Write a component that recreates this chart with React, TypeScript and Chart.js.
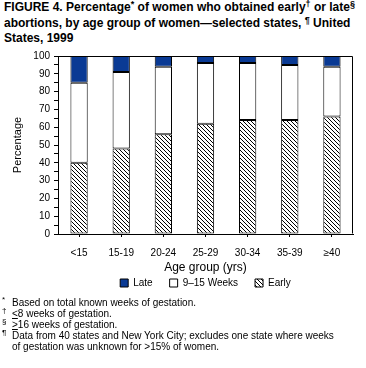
import React, { useEffect, useRef } from 'react';
import { Chart, registerables } from 'chart.js';

Chart.register(...registerables);

const categories = ['<15', '15-19', '20-24', '25-29', '30-34', '35-39', '≥40'];
const earlyValues = [40, 48, 56, 62, 64, 64, 66];
const midValues = [45, 43, 38, 34, 32, 31, 28];
const lateValues = [15, 9, 6, 4, 4, 5, 6];
const seriesLabels = ['Early', '9–15 Weeks', 'Late'];
const yMin = 0;
const yMax = 100;
const yStep = 5;
const yLabelStep = 10;

const FONT = "'Liberation Sans', Arial, Helvetica, sans-serif";

const boxPlugin = {
  id: 'plotBox',
  afterDatasetsDraw(chart: any) {
    const { ctx, chartArea } = chart;
    const l = Math.round(chartArea.left) + 0.5;
    const r = Math.round(chartArea.right) - 0.5;
    const t = Math.round(chartArea.top) + 0.5;
    const b = Math.round(chartArea.bottom) - 0.5;
    ctx.save();
    ctx.strokeStyle = '#000';
    ctx.lineWidth = 1;
    ctx.beginPath();
    ctx.moveTo(l, t);
    ctx.lineTo(r, t);
    ctx.lineTo(r, b);
    ctx.stroke();
    ctx.restore();
  },
};

const legendShift = {
  id: 'legendShift',
  afterLayout(chart: any) {
    const lg = chart.legend;
    if (!lg) return;
    const desiredCenter = chart.chartArea.bottom + 49;
    const pad = 17;
    const itemH = 10;
    const newTop = desiredCenter - pad - itemH / 2;
    const dy = newTop - lg.top;
    lg.top += dy;
    lg.bottom += dy;
  },
};

export default function App() {
  const ref = useRef<HTMLCanvasElement>(null);

  useEffect(() => {
    const canvas = ref.current;
    if (!canvas) return;
    const pc = document.createElement('canvas');
    pc.width = 4;
    pc.height = 4;
    const pctx = pc.getContext('2d')!;
    pctx.fillStyle = '#fff';
    pctx.fillRect(0, 0, 4, 4);
    pctx.fillStyle = '#000';
    for (let i = 0; i < 4; i++) pctx.fillRect(i, i, 1, 1);
    const pattern = canvas.getContext('2d')!.createPattern(pc, 'repeat')!;

    const common = {
      borderColor: '#000',
      borderWidth: 1,
      borderSkipped: false as const,
      barPercentage: 0.41,
      categoryPercentage: 1,
    };

    const chart = new Chart(canvas, {
      type: 'bar',
      data: {
        labels: categories,
        datasets: [
          { label: seriesLabels[0], data: earlyValues, backgroundColor: pattern as any, ...common },
          { label: seriesLabels[1], data: midValues, backgroundColor: '#ffffff', ...common },
          { label: seriesLabels[2], data: lateValues, backgroundColor: '#0a3a94', ...common },
        ],
      },
      options: {
        animation: false,
        responsive: false,
        events: [],
        layout: { padding: { top: 10, right: 13, left: 7, bottom: 0 } },
        plugins: {
          legend: {
            position: 'bottom',
            fullSize: false,
            reverse: true,
            labels: {
              boxWidth: 8,
              boxHeight: 8,
              padding: 17,
              color: '#000',
              font: { family: FONT, size: 10 },
            },
          },
          tooltip: { enabled: false },
        },
        scales: {
          x: {
            stacked: true,
            afterFit: (s: any) => {
              s.height = 41;
            },
            grid: {
              display: true,
              drawOnChartArea: false,
              drawTicks: true,
              tickLength: 3,
              offset: false,
              color: '#000',
            },
            border: { display: true, color: '#000', width: 1 },
            ticks: {
              color: '#000',
              font: { family: FONT, size: 10 },
              padding: 10,
              maxRotation: 0,
              autoSkip: false,
            },
            title: {
              display: true,
              text: 'Age group (yrs)',
              color: '#000',
              font: { family: FONT, size: 12 },
              padding: { top: 0, bottom: 0 },
            },
          },
          y: {
            stacked: true,
            min: yMin,
            max: yMax,
            afterFit: (s: any) => {
              s.width = 51;
            },
            grid: {
              display: true,
              drawOnChartArea: false,
              drawTicks: true,
              tickLength: 4,
              color: '#000',
            },
            border: { display: true, color: '#000', width: 1 },
            ticks: {
              stepSize: yStep,
              autoSkip: false,
              color: '#000',
              padding: 4,
              font: { family: FONT, size: 10 },
              callback: (v: any) => (Number(v) % yLabelStep === 0 ? String(v) : ''),
            },
            title: {
              display: true,
              text: 'Percentage',
              color: '#000',
              font: { family: FONT, size: 11 },
            },
          },
        },
      },
      plugins: [boxPlugin, legendShift],
    });
    return () => chart.destroy();
  }, []);

  const sup: React.CSSProperties = { fontSize: 9, position: 'relative', top: -4 };
  const mark: React.CSSProperties = {
    position: 'absolute',
    left: 2,
    top: -3,
    fontSize: 8,
  };
  const note: React.CSSProperties = { position: 'relative', paddingLeft: 12 };

  return (
    <div
      style={{
        position: 'absolute',
        left: 0,
        top: 0,
        width: 366,
        height: 368,
        background: '#fff',
        fontFamily: FONT,
        color: '#000',
        overflow: 'hidden',
      }}
    >
      <div
        style={{
          position: 'absolute',
          left: 4,
          top: 0,
          fontWeight: 'bold',
          fontSize: 12,
          lineHeight: '14.5px',
          whiteSpace: 'nowrap',
        }}
      >
        FIGURE 4. Percentage<span style={sup}>*</span> of women who obtained early<span style={sup}>†</span> or late
        <span style={sup}>§</span>
        <br />
        abortions, by age group of women—selected states, <span style={sup}>¶</span> United
        <br />
        States, 1999
      </div>
      <div style={{ position: 'absolute', left: 0, top: 46 }}>
        <canvas ref={ref} width={366} height={266} style={{ display: 'block' }} />
      </div>
      <div
        style={{
          position: 'absolute',
          left: 0,
          top: 297,
          width: 366,
          fontSize: 10,
          lineHeight: '11px',
          whiteSpace: 'nowrap',
        }}
      >
        <div style={note}>
          <span style={mark}>*</span>Based on total known weeks of gestation.
        </div>
        <div style={note}>
          <span style={mark}>†</span>
          <span style={{ textDecoration: 'underline' }}>&lt;</span>8 weeks of gestation.
        </div>
        <div style={note}>
          <span style={mark}>§</span>
          <span style={{ textDecoration: 'underline' }}>&gt;</span>16 weeks of gestation.
        </div>
        <div style={note}>
          <span style={mark}>¶</span>Data from 40 states and New York City; excludes one state where weeks
          <br />
          of gestation was unknown for &gt;15% of women.
        </div>
      </div>
    </div>
  );
}
